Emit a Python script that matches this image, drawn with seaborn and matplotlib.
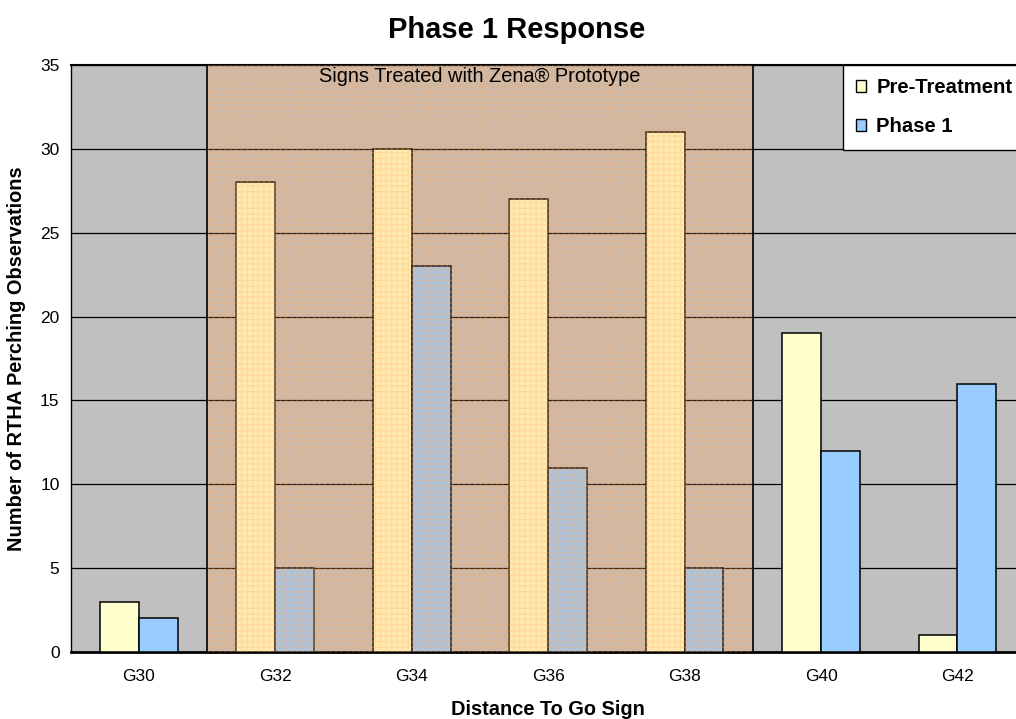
import numpy as np
import pandas as pd
import matplotlib
matplotlib.use("Agg")
import matplotlib.pyplot as plt
import matplotlib.patches as mpatches
import seaborn as sns

# chart values
signs = ["G30", "G32", "G34", "G36", "G38", "G40", "G42"]
pre_treatment = [3, 28, 30, 27, 31, 19, 1]
phase_1 = [2, 5, 23, 11, 5, 12, 16]
series_names = ["Pre-Treatment", "Phase 1"]
colors = ["#FFFFCC", "#99CCFF"]

df = pd.DataFrame({
    "Sign": signs * 2,
    "Count": pre_treatment + phase_1,
    "Series": [series_names[0]] * len(signs) + [series_names[1]] * len(signs),
})

sns.set_style("white")
plt.rcParams["font.family"] = ["Liberation Sans", "DejaVu Sans"]
plt.rcParams["text.color"] = "black"
plt.rcParams["axes.labelcolor"] = "black"
plt.rcParams["xtick.color"] = "black"
plt.rcParams["ytick.color"] = "black"

fig = plt.figure(figsize=(10.16, 7.19), dpi=100)
ax = fig.add_axes([0.0695, 0.0932, 0.94, 0.8164])
ax.set_facecolor("#C0C0C0")

sns.barplot(data=df, x="Sign", y="Count", hue="Series", palette=colors,
            saturation=1, width=0.57, edgecolor="black", linewidth=1.1,
            ax=ax, legend=False, zorder=3)

# horizontal gridlines
ax.set_ylim(0, 35)
ax.set_yticks(range(0, 36, 5))
ax.yaxis.grid(True, color="black", linewidth=0.9, zorder=1)
ax.set_axisbelow(True)

# treated region overlay (semi-transparent mesh)
ax.axvspan(0.5, 4.5, facecolor=(1.0, 0.62, 0.3, 0.2), edgecolor="none", zorder=4)
ax.axvspan(0.5, 4.5, facecolor="none", edgecolor=(1.0, 0.68, 0.4, 0.3),
           hatch="+++", linewidth=0, zorder=4)
ax.axvline(0.5, color="black", linewidth=1.2, zorder=5)
ax.axvline(4.5, color="black", linewidth=1.2, zorder=5)
ax.text(2.5, 34.3, "Signs Treated with Zena\u00ae Prototype", ha="center", va="center",
        fontsize=14.4, zorder=6)

ax.set_xlim(-0.5, 6.5)
ax.set_xticks(np.arange(-0.5, 7, 1))
ax.set_xticklabels([])
ax.set_xticks(range(len(signs)), minor=True)
ax.set_xticklabels(signs, minor=True, fontsize=12.5)
ax.tick_params(axis="x", which="major", direction="out", length=6, width=1)
ax.tick_params(axis="x", which="minor", length=0, pad=12)
ax.tick_params(axis="y", direction="out", length=5, width=1, labelsize=12.5, pad=3)

for side in ["left", "bottom", "top", "right"]:
    ax.spines[side].set_visible(True)
    ax.spines[side].set_color("black")
ax.spines["bottom"].set_linewidth(2)
ax.spines["left"].set_linewidth(1)
ax.spines["top"].set_linewidth(1.5)

ax.set_xlabel("Distance To Go Sign", fontsize=14.4, fontweight="bold", labelpad=12)
ax.set_ylabel("Number of RTHA Perching Observations", fontsize=14.4, fontweight="bold", labelpad=10)
fig.text(0.508, 0.958, "Phase 1 Response", fontsize=21, fontweight="bold",
         ha="center", va="center")

handles = [mpatches.Patch(facecolor=c, edgecolor="black", linewidth=1) for c in colors]
leg = ax.legend(handles, series_names, loc="upper right", bbox_to_anchor=(1.0, 1.0),
                borderaxespad=0, frameon=True, fancybox=False, handlelength=0.5,
                handleheight=0.5, handletextpad=0.5, labelspacing=1.0,
                prop={"weight": "bold", "size": 14.6}, borderpad=0.65)
leg.get_frame().set_edgecolor("black")
leg.get_frame().set_facecolor("white")
leg.get_frame().set_alpha(1)
leg.get_frame().set_linewidth(1)
leg.set_zorder(10)

fig.savefig("out.png", dpi=100)
